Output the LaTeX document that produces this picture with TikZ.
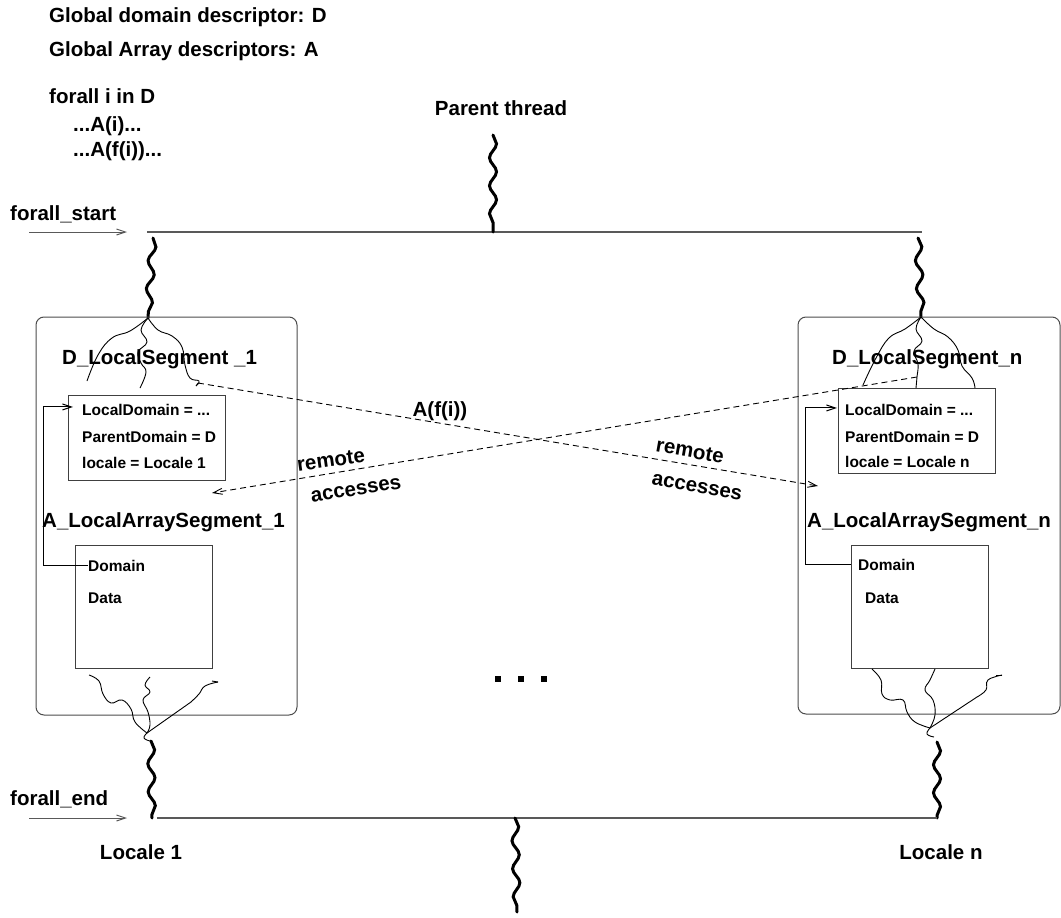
\documentclass[tikz,border=0pt]{standalone}
\usepackage{fontspec}
\setmainfont{Liberation Sans}
\usetikzlibrary{arrows.meta,decorations.pathmorphing,calc}
\begin{document}
\begin{tikzpicture}[x=1pt,y=-1pt,
  big/.style={font=\fontsize{20.5}{24}\selectfont\bfseries, inner sep=0pt},
  small/.style={font=\fontsize{15.5}{18}\selectfont\bfseries, inner sep=0pt},
  txt/.style={big, anchor=base west},
  stxt/.style={small, anchor=base west},
  hline/.style={draw=black!65, line width=1.2pt},
  tip/.style={-{Straight Barb[length=9pt,width=6pt]}},
  inarrow/.style={draw=black!65, line width=1pt, tip},
  thread/.style={line width=3pt, line cap=round, decorate,
     decoration={snake, segment length=28pt, amplitude=3.5pt}},
  fine/.style={line width=0.9pt},
  locbox/.style={draw=black!70, line width=1pt, rounded corners=8pt},
  sqbox/.style={draw=black!75, line width=1pt},
  remote/.style={dashed, dash pattern=on 6pt off 4pt, line width=0.9pt, tip},
  conn/.style={line width=1pt, tip},
  dot/.style={fill=black, minimum size=6pt, inner sep=0pt}
]
\useasboundingbox (0,0) rectangle (1061,918);

% header texts
\node[txt] (g1) at (49,22) {Global domain descriptor: D};
\node[txt] (g2) at (49,56) {Global Array descriptors: A};
\node[txt] (g3) at (49,103) {forall i in D};
\node[txt] (g4) at (73,131) {...A(i)...};
\node[txt] (g5) at (73,156) {...A(f(i))...};
\node[big, anchor=base] (pt) at (501,115) {Parent thread};

% forall_start
\node[txt] (fs) at (10,220) {forall\_start};
\coordinate (fsa) at (29,232);
\coordinate (fsb) at (127,232);
\draw[inarrow] (fsa) -- (fsb);
\coordinate (tl) at (147,232);
\coordinate (tr) at (922,232);
\draw[hline] (tl) -- (tr);

% parent thread top
\coordinate (p1) at (493,135);
\coordinate (p2) at (493,232);
\draw[thread] (p1) -- (p2);

% locale threads top
\coordinate (l1a) at (153,238);
\coordinate (T1) at (148,318);
\draw[thread] (l1a) -- (T1);
\coordinate (r1a) at (918,238);
\coordinate (T2) at (921,317);
\draw[thread] (r1a) -- (T2);

% locale boxes
\node[locbox, minimum width=261pt, minimum height=398pt] (L) at (166.5,516) {};
\node[locbox, minimum width=262pt, minimum height=397pt] (R) at (929,515.5) {};

% left locale content
\node[txt] (ldseg) at (62,364) {D\_LocalSegment \_1};
\node[sqbox, minimum width=157pt, minimum height=85pt] (ld) at (146.5,437.5) {};
\node[stxt] (ldl1) at (82,415.5) {LocalDomain = ...};
\node[stxt] (ldl2) at (82,442.5) {ParentDomain = D};
\node[stxt] (ldl3) at (82,468.5) {locale = Locale 1};
\node[txt] (laseg) at (42,527) {A\_LocalArraySegment\_1};
\node[sqbox, minimum width=137pt, minimum height=123pt] (la) at (143.5,606.5) {};
\node[stxt] (ldom) at (88,571.5) {Domain};
\node[stxt] (ldat) at (88,603.5) {Data};
\draw[conn] (ldom.west) -- ++(-45,0) |- ($(ldl1.west)+(-9,-3)$);

% right locale content
\node[txt] (rdseg) at (832,364) {D\_LocalSegment\_n};
\node[sqbox, minimum width=157pt, minimum height=85pt] (rd) at (916.5,430.5) {};
\node[stxt] (rdl1) at (845,415.5) {LocalDomain = ...};
\node[stxt] (rdl2) at (845,442.5) {ParentDomain = D};
\node[stxt] (rdl3) at (845,467.5) {locale = Locale n};
\node[txt] (raseg) at (807,527) {A\_LocalArraySegment\_n};
\node[sqbox, minimum width=137pt, minimum height=123pt] (ra) at (919.5,606.5) {};
\node[stxt] (rdom) at (858,570.5) {Domain};
\node[stxt] (rdat) at (865,603.5) {Data};
\draw[conn] (ra.west |- rdom.west) -- ++(-45,0) |- ($(rdl1.west)+(-8,-2)$);

% thin branch threads, left top
\coordinate (lc) at (198,383);
\draw[fine] plot[smooth, tension=0.7] coordinates {(148,318) (130,331) (112,338) (98,355) (87,381)};
\draw[fine] plot[smooth, tension=0.7] coordinates {(148,318) (141,330) (147,342) (138,352) (141,363) (146,372) (140,388)};
\draw[fine] plot[smooth, tension=0.7] coordinates {(148,318) (158,330) (172,336) (182,347) (185,365) (190,378) (199,381) (196,386) (lc)};

% thin branch threads, right top
\coordinate (rc) at (917,377);
\draw[fine] plot[smooth, tension=0.7] coordinates {(921,317) (905,329) (889,338) (876,358) (863,385)};
\draw[fine] plot[smooth, tension=0.7] coordinates {(921,317) (916,329) (922,341) (914,351) (918,364) (rc) (916,388)};
\draw[fine] plot[smooth, tension=0.7] coordinates {(921,317) (934,329) (948,337) (958,350) (962,366) (972,378) (975,388)};

% remote accesses
\coordinate (ra1) at (818,486);
\coordinate (la1) at (212,493);
\draw[remote] (lc) -- (ra1);
\draw[remote] (rc) -- (la1);
\node[big] (aff) at (440,411) {A(f(i))};
\node[big, rotate=8] (rem1) at (331,460) {remote};
\node[big, rotate=9] (acc1) at (356,490) {accesses};
\node[big, rotate=-10] (rem2) at (690,451) {remote};
\node[big, rotate=-10] (acc2) at (697,487) {accesses};

% dots
\node[dot] (d1) at (498,679) {};
\node[dot] (d2) at (521,679) {};
\node[dot] (d3) at (544,679) {};

% bottom thin threads, left
\coordinate (B1) at (147,733);
\draw[fine] plot[smooth, tension=0.7] coordinates {(89,675) (99,681) (103,694) (111,703) (122,700) (131,709) (135,722) (B1)};
\draw[fine] plot[smooth, tension=0.7] coordinates {(150,677) (145,685) (150,692) (143,700) (148,712) (150,725) (B1)};
\draw[fine] plot[smooth, tension=0.7] coordinates {(218,682) (205,686) (199,694) (191,702)};
\draw[fine] (191,702) -- (B1);
\draw[fine] (218,682) -- (212,681);
\draw[fine] plot[smooth, tension=0.8] coordinates {(B1) (144,738) (150,741)};

% bottom thin threads, right
\coordinate (B2) at (930,728);
\draw[fine] plot[smooth, tension=0.7] coordinates {(872,669) (881,680) (882,694) (890,700) (903,700) (907,712) (915,722) (B2)};
\draw[fine] plot[smooth, tension=0.7] coordinates {(935,669) (930,680) (925,690) (933,700) (935,715) (B2)};
\draw[fine] plot[smooth, tension=0.7] coordinates {(1002,675) (988,680) (986,690) (977,697)};
\draw[fine] (977,697) -- (B2);
\draw[fine] (1002,675) -- (996,675);
\draw[fine] plot[smooth, tension=0.8] coordinates {(B2) (927,734) (934,737)};

% bottom thick threads
\coordinate (l2a) at (151,741);
\coordinate (l2b) at (152,818);
\draw[thread] (l2a) -- (l2b);
\coordinate (r2a) at (937,742);
\coordinate (r2b) at (937,818);
\draw[thread] (r2a) -- (r2b);

% forall_end
\node[txt] (fe) at (10,805) {forall\_end};
\coordinate (fea) at (29,818);
\coordinate (feb) at (127,818);
\draw[inarrow] (fea) -- (feb);
\coordinate (bl) at (157,818);
\draw[hline] (bl) -- (r2b);

% parent thread bottom
\coordinate (p3) at (515,818);
\coordinate (p4) at (517,912);
\draw[thread] (p3) -- (p4);

\node[big, anchor=base] (loc1) at (141,859) {Locale 1};
\node[big, anchor=base] (locn) at (941,859) {Locale n};
\end{tikzpicture}
\end{document}
